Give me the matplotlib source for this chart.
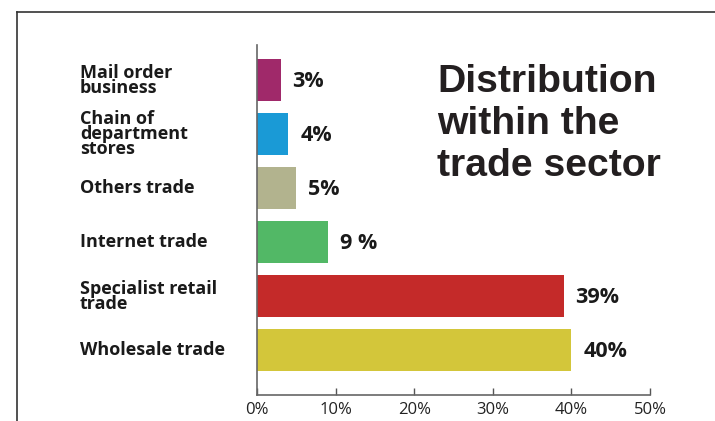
import matplotlib.pyplot as plt
from matplotlib.lines import Line2D
from matplotlib.transforms import blended_transform_factory

plt.rcParams['font.family'] = ['Open Sans', 'DejaVu Sans']

# data (bottom to top)
categories = ['Wholesale trade', 'Specialist retail\ntrade', 'Internet trade',
              'Others trade', 'Chain of\ndepartment\nstores', 'Mail order\nbusiness']
values = [40, 39, 9, 5, 4, 3]
value_labels = ['40%', '39%', '9 %', '5%', '4%', '3%']
colors = ['#D3C63A', '#C42A29', '#52B866', '#B2B38E', '#1A9AD6', '#A0296A']
xticks = [0, 10, 20, 30, 40, 50]

fig = plt.figure(figsize=(7.15, 4.21), dpi=100)
ax = fig.add_axes([0.3594, 0.0618, 0.5497, 0.8314])

ypos = list(range(len(values)))
ax.barh(ypos, values, height=0.78, color=colors)
ax.set_xlim(0, 50)
ax.set_ylim(-0.83, 5.65)

for y, v, lab in zip(ypos, values, value_labels):
    ax.text(v + 1.5, y - 0.03, lab, va='center', ha='left', fontsize=15.5,
            fontweight='bold', color='#1a1a1a')

# category labels, left aligned in figure space
tr = blended_transform_factory(fig.transFigure, ax.transData)
for y, c in zip(ypos, categories):
    ax.text(80 / 715, y, c, transform=tr, va='center', ha='left', fontsize=13,
            fontweight='bold', color='#1a1a1a', linespacing=0.78)

ax.set_yticks([])
ax.set_xticks(xticks)
ax.set_xticklabels([f'{t}%' for t in xticks], fontsize=12, color='#222222')
ax.tick_params(axis='x', direction='in', length=5, width=1, color='#555555', pad=5)
for s in ['top', 'right']:
    ax.spines[s].set_visible(False)
for s in ['left', 'bottom']:
    ax.spines[s].set_color('#666666')
    ax.spines[s].set_linewidth(1.2)

fig.text(437 / 715, 1 - 124 / 421, 'Distribution\nwithin the\ntrade sector',
         family='Liberation Sans', fontweight='bold', fontsize=28.2,
         color='#231f20', va='center', ha='left', linespacing=1.2)

# outer frame lines
fig.add_artist(Line2D([17 / 715, 1], [1 - 12 / 421, 1 - 12 / 421],
                      transform=fig.transFigure, color='#333333', lw=1.2))
fig.add_artist(Line2D([17 / 715, 17 / 715], [0, 1 - 12 / 421],
                      transform=fig.transFigure, color='#333333', lw=1.2))

fig.savefig('out.png', dpi=100)
